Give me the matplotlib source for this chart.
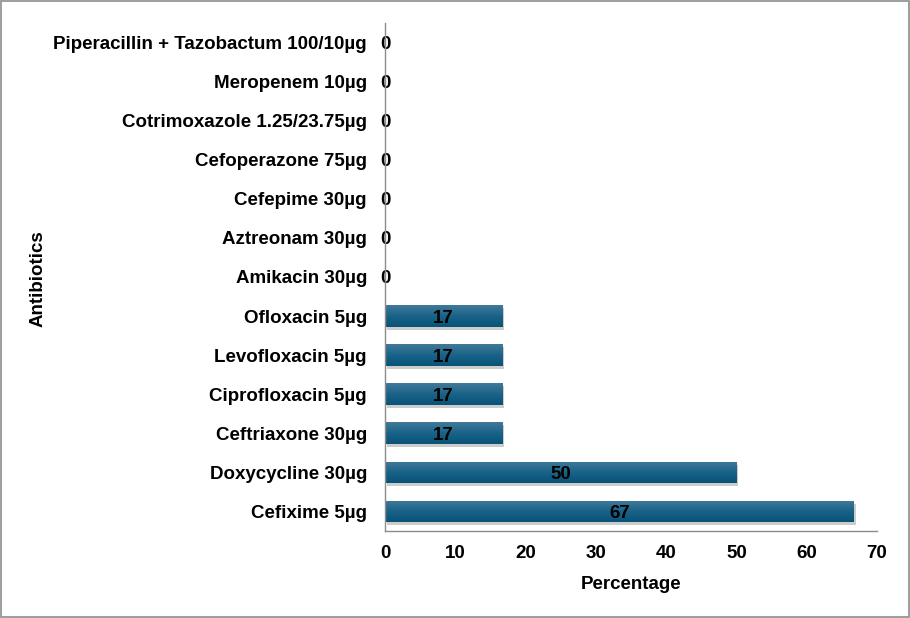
import matplotlib
matplotlib.use("Agg")
import matplotlib.pyplot as plt
import numpy as np
from matplotlib.colors import LinearSegmentedColormap
from matplotlib.patches import Rectangle
import matplotlib.transforms as mtransforms

plt.rcParams['font.family'] = ['Liberation Sans', 'DejaVu Sans']
plt.rcParams['font.weight'] = 'bold'

categories = ["Cefixime 5µg", "Doxycycline 30µg", "Ceftriaxone 30µg", "Ciprofloxacin 5µg",
              "Levofloxacin 5µg", "Ofloxacin 5µg", "Amikacin 30µg", "Aztreonam 30µg",
              "Cefepime 30µg", "Cefoperazone 75µg", "Cotrimoxazole 1.25/23.75µg",
              "Meropenem 10µg", "Piperacillin + Tazobactum 100/10µg"]
values = [66.7, 50.0, 16.7, 16.7, 16.7, 16.7, 0, 0, 0, 0, 0, 0, 0]
x_ticks = [0, 10, 20, 30, 40, 50, 60, 70]

FS = 13.5
fig = plt.figure(figsize=(9.10, 6.18), dpi=100)
ax = fig.add_axes([385/910, 1-531/618, (877-385)/910, (531-23)/618])

y = np.arange(len(categories))
h = 0.556
cmap = LinearSegmentedColormap.from_list("g", ["#0a5378", "#1a6388", "#41799a"])
grad = np.linspace(0, 1, 64).reshape(-1, 1)

bars = ax.barh(y, values, height=h, color="#1a6388", zorder=3)
for b, v in zip(bars, values):
    if v <= 0:
        continue
    off = mtransforms.offset_copy(ax.transData, fig=fig, x=2, y=-3, units='dots')
    sh = Rectangle((b.get_x(), b.get_y()), b.get_width(), b.get_height(),
                   facecolor="#000000", alpha=0.2, transform=off, zorder=2, lw=0)
    ax.add_patch(sh)
    im = ax.imshow(grad, cmap=cmap, aspect='auto', zorder=4, origin='lower',
                   extent=[b.get_x(), b.get_x() + b.get_width(),
                           b.get_y(), b.get_y() + b.get_height()])
    im.set_clip_path(b)

for yi, v in zip(y, values):
    if v > 0:
        ax.text(v / 2, yi, f"{round(v):d}", ha='center', va='center_baseline',
                fontsize=FS, fontweight='bold', color='black', zorder=6)
    else:
        ax.text(0.05, yi, "0", ha='center', va='center_baseline', fontsize=FS,
                fontweight='bold', color='black', zorder=1)

ax.set_xlim(0, 70)
ax.set_ylim(-0.5, len(categories) - 0.5)
ax.set_yticks(y)
ax.set_yticklabels(categories, fontsize=FS, fontweight='bold')
ax.set_xticks(x_ticks)
ax.set_xticklabels([str(t) for t in x_ticks], fontsize=FS, fontweight='bold')
ax.tick_params(axis='y', length=0, pad=13)
ax.tick_params(axis='x', length=0, pad=10)
for s in ['top', 'right']:
    ax.spines[s].set_visible(False)
for s in ['left', 'bottom']:
    ax.spines[s].set_color('#8c8c8c')
    ax.spines[s].set_linewidth(1.0)
    ax.spines[s].set_zorder(5)

ax.set_xlabel("Percentage", fontsize=FS, fontweight='bold', labelpad=10)
fig.text(38/910, 1-279/618, "Antibiotics", rotation=90, ha='center', va='center',
         fontsize=FS, fontweight='bold')

border = Rectangle((0.0008, 0.0012), 0.9984, 0.9976, transform=fig.transFigure,
                   fill=False, edgecolor='#8c8c8c', lw=1.2)
fig.patches.append(border)

fig.savefig("out.png", dpi=100)
